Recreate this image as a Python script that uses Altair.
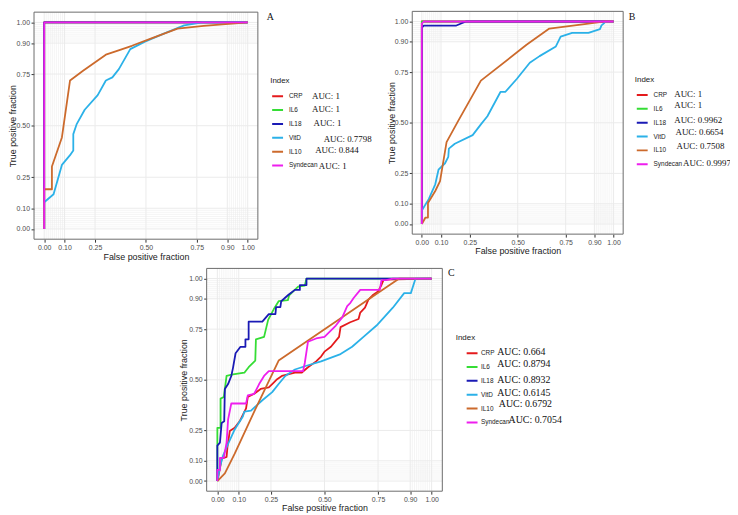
import altair as alt
import pandas as pd

# ---------------- data ----------------
SERIES = ["CRP", "IL6", "IL18", "VitD", "IL10", "Syndecan"]
COLORS = ["#E41A1C", "#35DD35", "#1A1AB5", "#2BB1E8", "#CC6A2C", "#EE1EEE"]
TICKS = [0, 0.1, 0.25, 0.5, 0.75, 0.9, 1.0]
MINOR = [0.01, 0.02, 0.03, 0.04, 0.05, 0.06, 0.07, 0.08, 0.09,
         0.91, 0.92, 0.93, 0.94, 0.95, 0.96, 0.97, 0.98, 0.99]

# Panel A
A_PERFECT_F = [0, 0, 1]
A_PERFECT_T = [0, 1, 1]
A_VITD_F = [0, 0, 0.046, 0.087, 0.127, 0.143, 0.143, 0.159, 0.199, 0.263, 0.303, 0.335, 0.367, 0.423, 0.495, 0.591, 0.688, 0.776, 1.0]
A_VITD_T = [0, 0.129, 0.168, 0.31, 0.357, 0.38, 0.459, 0.506, 0.577, 0.648, 0.719, 0.734, 0.774, 0.871, 0.907, 0.947, 0.986, 1.0, 1.0]
A_IL10_F = [0, 0, 0.038, 0.038, 0.087, 0.127, 0.191, 0.303, 0.351, 0.431, 0.527, 0.655, 0.784, 1.0]
A_IL10_T = [0, 0.192, 0.192, 0.302, 0.443, 0.719, 0.766, 0.844, 0.860, 0.887, 0.923, 0.970, 0.983, 1.0]
A_AUC = ["AUC: 1", "AUC: 1", "AUC: 1", "AUC: 0.7798", "AUC: 0.844", "AUC: 1"]

# Panel B
B_PERFECT_F = [0, 0, 1]
B_PERFECT_T = [0, 1, 1]
B_IL18_F = [0, 0, 0.01, 0.18, 0.23, 1.0]
B_IL18_T = [0, 0.97, 0.98, 0.98, 1.0, 1.0]
B_SYN_F = [0, 0, 0.01, 1.0]
B_SYN_T = [0, 0.99, 1.0, 1.0]
B_VITD_F = [0, 0, 0.036, 0.07, 0.087, 0.121, 0.138, 0.141, 0.172, 0.265, 0.308, 0.342, 0.410, 0.435, 0.495, 0.563, 0.614, 0.699, 0.724, 0.784, 0.869, 0.929, 0.937, 0.951, 0.954, 1.0]
B_VITD_T = [0, 0.067, 0.123, 0.196, 0.268, 0.30, 0.332, 0.372, 0.396, 0.439, 0.492, 0.532, 0.652, 0.652, 0.716, 0.796, 0.829, 0.877, 0.925, 0.944, 0.944, 0.962, 0.981, 0.992, 0.997, 1.0]
B_IL10_F = [0, 0.019, 0.032, 0.032, 0.07, 0.095, 0.129, 0.189, 0.308, 0.546, 0.665, 0.869, 0.954, 1.0]
B_IL10_T = [0, 0.032, 0.032, 0.104, 0.163, 0.212, 0.404, 0.508, 0.708, 0.885, 0.965, 0.989, 1.0, 1.0]
B_AUC = ["AUC: 1", "AUC: 1", "AUC: 0.9962", "AUC: 0.6654", "AUC: 0.7508", "AUC: 0.9997"]

# Panel C
C_CRP_F = [0, 0.01, 0.02, 0.043, 0.047, 0.058, 0.081, 0.104, 0.134, 0.142, 0.172, 0.202, 0.24, 0.256, 0.279, 0.301, 0.362, 0.393, 0.423, 0.461, 0.484, 0.5, 0.53, 0.568, 0.575, 0.62, 0.659, 0.667, 0.689, 0.705, 0.728, 0.75, 0.766, 0.776, 1.0]
C_CRP_T = [0, 0.05, 0.11, 0.119, 0.167, 0.247, 0.263, 0.295, 0.359, 0.415, 0.431, 0.455, 0.463, 0.479, 0.503, 0.519, 0.535, 0.535, 0.562, 0.591, 0.615, 0.639, 0.663, 0.712, 0.76, 0.784, 0.8, 0.832, 0.856, 0.896, 0.92, 0.936, 0.968, 0.995, 1.0]
C_IL6_F = [0, 0, 0.015, 0.015, 0.03, 0.043, 0.073, 0.126, 0.146, 0.177, 0.18, 0.218, 0.237, 0.263, 0.286, 0.329, 0.335, 0.377, 0.408, 0.416, 1.0]
C_IL6_T = [0, 0.263, 0.263, 0.407, 0.415, 0.519, 0.527, 0.535, 0.562, 0.595, 0.700, 0.712, 0.796, 0.848, 0.888, 0.893, 0.917, 0.960, 0.965, 1.0, 1.0]
C_IL18_F = [0, 0, 0.012, 0.02, 0.032, 0.035, 0.05, 0.065, 0.073, 0.085, 0.108, 0.131, 0.131, 0.146, 0.146, 0.21, 0.24, 0.271, 0.274, 0.294, 0.298, 0.332, 0.362, 0.385, 0.385, 0.416, 0.416, 1.0]
C_IL18_T = [0, 0.175, 0.19, 0.287, 0.295, 0.455, 0.479, 0.519, 0.559, 0.631, 0.663, 0.663, 0.700, 0.700, 0.787, 0.787, 0.824, 0.824, 0.859, 0.859, 0.888, 0.92, 0.944, 0.944, 0.968, 0.968, 1.0, 1.0]
C_VITD_F = [0, 0.012, 0.027, 0.05, 0.081, 0.119, 0.126, 0.157, 0.21, 0.256, 0.286, 0.317, 0.362, 0.408, 0.484, 0.575, 0.629, 0.682, 0.743, 0.819, 0.872, 0.903, 0.925, 1.0]
C_VITD_T = [0, 0.07, 0.127, 0.183, 0.255, 0.319, 0.343, 0.348, 0.399, 0.439, 0.479, 0.519, 0.551, 0.567, 0.591, 0.627, 0.663, 0.712, 0.768, 0.856, 0.928, 0.928, 1.0, 1.0]
C_IL10_F = [0, 0.035, 0.081, 0.172, 0.286, 0.804, 0.849, 1.0]
C_IL10_T = [0, 0.038, 0.135, 0.343, 0.595, 0.968, 1.0, 1.0]
C_SYN_F = [0, 0, 0.012, 0.012, 0.02, 0.03, 0.043, 0.05, 0.065, 0.134, 0.142, 0.172, 0.195, 0.218, 0.24, 0.4, 0.408, 0.423, 0.461, 0.5, 0.553, 0.583, 0.606, 0.621, 0.636, 0.667, 0.758, 0.766, 0.788, 0.819, 1.0]
C_SYN_T = [0, 0.055, 0.055, 0.114, 0.114, 0.114, 0.19, 0.303, 0.383, 0.383, 0.423, 0.431, 0.479, 0.519, 0.543, 0.543, 0.583, 0.688, 0.704, 0.712, 0.768, 0.808, 0.864, 0.88, 0.904, 0.944, 0.944, 0.992, 0.992, 1.0, 1.0]
C_AUC = ["AUC: 0.664", "AUC: 0.8794", "AUC: 0.8932", "AUC: 0.6145", "AUC: 0.6792", "AUC: 0.7054"]

CURVES = {
    "A": [(A_PERFECT_F, A_PERFECT_T), (A_PERFECT_F, A_PERFECT_T), (A_PERFECT_F, A_PERFECT_T),
          (A_VITD_F, A_VITD_T), (A_IL10_F, A_IL10_T), (A_PERFECT_F, A_PERFECT_T)],
    "B": [(B_PERFECT_F, B_PERFECT_T), (B_PERFECT_F, B_PERFECT_T), (B_IL18_F, B_IL18_T),
          (B_VITD_F, B_VITD_T), (B_IL10_F, B_IL10_T), (B_SYN_F, B_SYN_T)],
    "C": [(C_CRP_F, C_CRP_T), (C_IL6_F, C_IL6_T), (C_IL18_F, C_IL18_T),
          (C_VITD_F, C_VITD_T), (C_IL10_F, C_IL10_T), (C_SYN_F, C_SYN_T)],
}
AUCS = {"A": A_AUC, "B": B_AUC, "C": C_AUC}

# ---------------- layout (reference pixel coordinates) ----------------
W, H = 730, 507
KX, KY = W / 738.0, H / 515.0


def X(v):
    return v * KX


def Y(v):
    return v * KY


LAYOUT = {
    "A": dict(fx=(26.6, 255.4), fy=(234.6, 1.4), ytx=5.0, xty=252.0, letter=(268, 6),
              leg=(268, 68.5), clip=14.2, symoff=1, laboff=5, aucsize=9,
              auc=[(310.7, 87.3), (310.7, 100.7), (312.3, 115.7), (322.7, 131.7), (314, 142.7), (317.7, 159.3)]),
    "B": dict(fx=(413.2, 628.8), fy=(229.4, 0.6), ytx=392.5, xty=246.5, letter=(638, 6),
              leg=(640.7, 67.5), clip=13.6, symoff=1, laboff=5, aucsize=9,
              auc=[(681, 85), (681, 96.7), (681, 112.7), (682.3, 125), (683.3, 139.3), (690, 156.7)]),
    "C": dict(fx=(203.05, 443.95), fy=(493.4, 264.6), ytx=179.7, xty=510.0, letter=(453, 269),
              leg=(457.7, 332.5), clip=13.9, symoff=10, laboff=2.5, aucsize=10,
              auc=[(500, 350), (500, 362.7), (500, 379.3), (500, 392.3), (501.7, 404.3), (511.7, 420)]),
}

FONT = "Liberation Sans"
SERIF = "Liberation Serif"
GRID = "#EBEBEB"
FRAME = "#6b6b6b"

layers = []
for p in ["A", "B", "C"]:
    L = LAYOUT[p]
    fl, fr = L["fx"]
    fb, ft = L["fy"]
    xs = alt.Scale(domain=[-0.05, 1.05], range=[X(fl), X(fr)], nice=False, zero=False)
    ys = alt.Scale(domain=[-0.05, 1.05], range=[Y(fb), Y(ft)], nice=False, zero=False)

    # grid lines
    gvals = [(v, 1.0) for v in TICKS] + [(v, 0.5) for v in MINOR]
    gdf = pd.DataFrame({"v": [g[0] for g in gvals], "w": [g[1] for g in gvals],
                        "lo": -0.05, "hi": 1.05})
    layers.append(alt.Chart(gdf).mark_rule(color=GRID).encode(
        x=alt.X("v:Q", scale=xs, axis=None),
        y=alt.Y("lo:Q", scale=ys, axis=None), y2="hi:Q",
        strokeWidth=alt.StrokeWidth("w:Q", scale=None, legend=None)))
    layers.append(alt.Chart(gdf).mark_rule(color=GRID).encode(
        y=alt.Y("v:Q", scale=ys, axis=None),
        x=alt.X("lo:Q", scale=xs, axis=None), x2="hi:Q",
        strokeWidth=alt.StrokeWidth("w:Q", scale=None, legend=None)))

    # curves
    rows = []
    for name, (fs, ts) in zip(SERIES, CURVES[p]):
        for i, (f, t) in enumerate(zip(fs, ts)):
            rows.append({"Index": name, "seq": i, "fpf": f, "tpf": t})
    df = pd.DataFrame(rows)
    lx, ly = L["leg"]
    xaxis = alt.Axis(orient="bottom", offset=Y(fb) - H, values=TICKS, format=".2f",
                     grid=False, domain=False, tickSize=3, tickColor="#333333",
                     labelFont=FONT, labelFontSize=7, labelColor="#4D4D4D", labelPadding=1.5,
                     labelOverlap=False, labelFlush=False,
                     title="False positive fraction", titleFont=FONT, titleFontSize=9,
                     titleFontWeight="normal", titleColor="#1A1A1A",
                     titleX=X((fl + fr) / 2), titleY=Y(L["xty"]) - Y(fb), titleBaseline="middle")
    yaxis = alt.Axis(orient="left", offset=-X(fl), values=TICKS, format=".2f",
                     grid=False, domain=False, tickSize=3, tickColor="#333333",
                     labelFont=FONT, labelFontSize=7, labelColor="#4D4D4D", labelPadding=1.5,
                     labelOverlap=False, labelFlush=False,
                     title="True positive fraction", titleFont=FONT, titleFontSize=9,
                     titleFontWeight="normal", titleColor="#1A1A1A",
                     titleX=X(L["ytx"]) - X(fl), titleY=Y((fb + ft) / 2),
                     titleBaseline="middle", titleAngle=270)
    legend = alt.Legend(orient="none", legendX=X(lx), legendY=Y(ly), title="Index",
                        titleFont=FONT, titleFontSize=8, titleFontWeight="normal",
                        titleColor="#1A1A1A", titlePadding=4, padding=0,
                        labelFont=FONT, labelFontSize=6.5, labelColor="#1A1A1A",
                        symbolType="stroke", symbolSize=121, symbolStrokeWidth=2,
                        clipHeight=L["clip"] * KY, rowPadding=0,
                        symbolOffset=L["symoff"], labelOffset=L["laboff"])
    layers.append(alt.Chart(df).mark_line(strokeWidth=1.8, strokeJoin="round").encode(
        x=alt.X("fpf:Q", scale=xs, axis=xaxis),
        y=alt.Y("tpf:Q", scale=ys, axis=yaxis),
        color=alt.Color("Index:N", scale=alt.Scale(domain=SERIES, range=COLORS), legend=legend),
        order=alt.Order("seq:Q")))

    # panel border
    fdf = pd.DataFrame({"x0": [-0.05], "x1": [1.05], "y0": [-0.05], "y1": [1.05]})
    layers.append(alt.Chart(fdf).mark_rect(fillOpacity=0, stroke=FRAME, strokeWidth=1).encode(
        x=alt.X("x0:Q", scale=xs, axis=None), x2="x1:Q",
        y=alt.Y("y0:Q", scale=ys, axis=None), y2="y1:Q"))

    # AUC annotations
    adf = pd.DataFrame({"label": AUCS[p],
                        "px": [X(a[0]) for a in L["auc"]],
                        "py": [Y(a[1]) for a in L["auc"]]})
    layers.append(alt.Chart(adf).mark_text(align="left", baseline="middle", font=SERIF,
                                           fontSize=L["aucsize"], color="#111111").encode(
        x=alt.X("px:Q", scale=None, axis=None),
        y=alt.Y("py:Q", scale=None, axis=None),
        text="label:N"))

    # panel letter
    tdf = pd.DataFrame({"label": [p], "px": [X(L["letter"][0])], "py": [Y(L["letter"][1])]})
    layers.append(alt.Chart(tdf).mark_text(align="center", baseline="middle", font=SERIF,
                                           fontSize=10, color="#111111").encode(
        x=alt.X("px:Q", scale=None, axis=None),
        y=alt.Y("py:Q", scale=None, axis=None),
        text="label:N"))

chart = alt.layer(*layers).resolve_scale(
    x="independent", y="independent", color="independent", strokeWidth="independent"
).resolve_axis(x="independent", y="independent").resolve_legend(
    color="independent"
).properties(
    width=W, height=H, autosize=alt.AutoSizeParams(type="none"), padding=0
).configure_view(stroke=None)

chart.save("out.html", embed_options={"renderer": "svg", "actions": False})
